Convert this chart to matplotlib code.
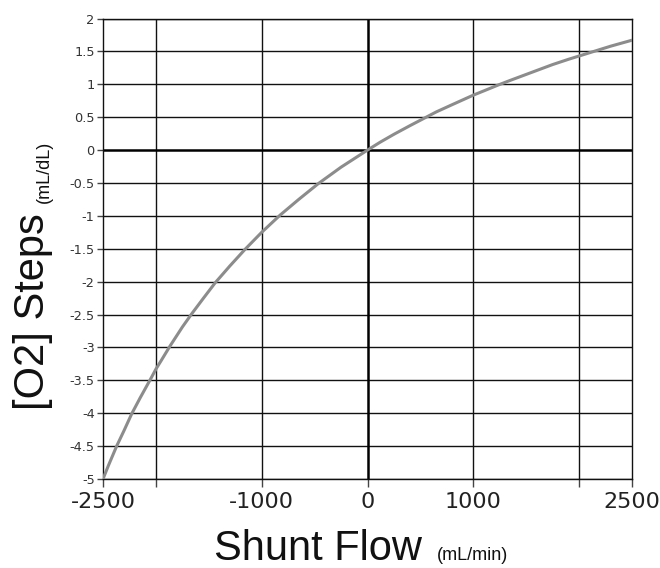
import matplotlib
matplotlib.use("Agg")
import matplotlib.pyplot as plt

# Data
shunt_flow = [-2500, -2450, -2371, -2300, -2229, -2150, -2040, -2000, -1950, -1867,
              -1750, -1662, -1550, -1441, -1300, -1158, -1000, -827, -650, -465,
              -250, 0, 120, 250, 400, 543, 650, 800, 1000, 1100, 1237, 1350,
              1500, 1600, 1750, 1900, 2000, 2100, 2200, 2300, 2400, 2500]
o2_steps = [-5.0, -4.8, -4.5, -4.26, -4.01, -3.77, -3.45, -3.33, -3.2, -2.98,
            -2.69, -2.49, -2.25, -2.02, -1.76, -1.51, -1.25, -0.99, -0.75, -0.51,
            -0.26, 0.0, 0.12, 0.24, 0.37, 0.49, 0.58, 0.69, 0.835, 0.9, 0.99, 1.06,
            1.15, 1.21, 1.3, 1.38, 1.43, 1.48, 1.53, 1.58, 1.625, 1.67]

x_ticks = [-2500, -2000, -1000, 0, 1000, 2000, 2500]
x_tick_labels = ["-2500", "", "-1000", "0", "1000", "", "2500"]
y_ticks = [-5, -4.5, -4, -3.5, -3, -2.5, -2, -1.5, -1, -0.5, 0, 0.5, 1, 1.5, 2]
y_tick_labels = ["-5", "-4.5", "-4", "-3.5", "-3", "-2.5", "-2", "-1.5", "-1",
                 "-0.5", "0", "0.5", "1", "1.5", "2"]

plt.rcParams['font.family'] = ['Liberation Sans', 'DejaVu Sans']

W, H = 660, 568
fig = plt.figure(figsize=(W / 100, H / 100), dpi=100)
ax = fig.add_axes([103 / W, 1 - 479 / H, (632 - 103) / W, (479 - 18.5) / H])

# grid
for xv in [-2000, -1000, 1000, 2000]:
    ax.axvline(xv, color='#111111', lw=1.0, zorder=1)
for yv in y_ticks:
    if yv != 0:
        ax.axhline(yv, color='#111111', lw=1.0, zorder=1)
ax.axvline(0, color='#000000', lw=1.8, zorder=1)
ax.axhline(0, color='#000000', lw=1.8, zorder=1)

ax.plot(shunt_flow, o2_steps, color='#8c8c8c', lw=2.2, zorder=3,
        solid_capstyle='round', solid_joinstyle='round')

ax.set_xlim(-2500, 2500)
ax.set_ylim(-5, 2)
ax.set_xticks(x_ticks)
ax.set_xticklabels(x_tick_labels, family='DejaVu Sans')
ax.set_yticks(y_ticks)
ax.set_yticklabels(y_tick_labels, family='DejaVu Sans')
for s in ax.spines.values():
    s.set_color('#111111')
    s.set_linewidth(1.0)
ax.tick_params(axis='y', direction='out', length=4.5, width=1, color='#444444',
               labelsize=9.3, labelcolor='#333333', pad=1.5)
ax.tick_params(axis='x', direction='out', length=6, width=1, color='#444444',
               labelsize=16, labelcolor='#222222', pad=3)

# axis titles
fig.text(422 / W, 1 - 560 / H, "Shunt Flow", ha='right', va='baseline',
         fontsize=30, color='#111111')
fig.text(437 / W, 1 - 560 / H, "(mL/min)", ha='left', va='baseline',
         fontsize=13, color='#111111')
fig.text(53 / W, 1 - 410 / H, "[O2] Steps", ha='left', va='bottom',
         rotation=90, rotation_mode='anchor', fontsize=30, color='#111111')
fig.text(53 / W, 1 - 203 / H, "(mL/dL)", ha='left', va='bottom',
         rotation=90, rotation_mode='anchor', fontsize=13, color='#111111')

fig.savefig("out.png", dpi=100)
